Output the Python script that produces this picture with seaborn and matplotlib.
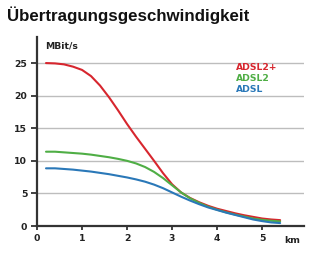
import matplotlib
matplotlib.use("Agg")
import matplotlib.pyplot as plt
import matplotlib.transforms as mtransforms
import seaborn as sns
import pandas as pd

# ---- data ----
distance_km = [0.2, 0.4, 0.6, 0.8, 1.0, 1.2, 1.4, 1.6, 1.8, 2.0, 2.2, 2.4, 2.6,
               2.8, 3.0, 3.2, 3.4, 3.6, 3.8, 4.0, 4.2, 4.4, 4.6, 4.8, 5.0, 5.2, 5.4]
adsl2plus = [25.0, 24.95, 24.8, 24.45, 23.95, 23.0, 21.55, 19.75, 17.75, 15.65, 13.7, 11.85, 10.0,
             8.1, 6.4, 5.15, 4.3, 3.65, 3.1, 2.65, 2.3, 1.95, 1.65, 1.4, 1.15, 1.0, 0.9]
adsl2 = [11.4, 11.4, 11.3, 11.2, 11.1, 10.95, 10.75, 10.55, 10.3, 10.0, 9.6, 9.05, 8.3,
         7.35, 6.25, 5.15, 4.25, 3.55, 2.95, 2.5, 2.1, 1.75, 1.45, 1.15, 0.95, 0.8, 0.7]
adsl = [8.85, 8.85, 8.75, 8.65, 8.5, 8.35, 8.15, 7.95, 7.7, 7.45, 7.15, 6.8, 6.35,
        5.8, 5.15, 4.5, 3.9, 3.35, 2.85, 2.45, 2.05, 1.7, 1.35, 1.0, 0.75, 0.55, 0.45]
series_names = ["ADSL2+", "ADSL2", "ADSL"]
series_colors = ["#d7262e", "#4fae45", "#2a78b8"]
x_ticks = [0, 1, 2, 3, 4, 5]
y_ticks = [0, 5, 10, 15, 20, 25]
title = "Übertragungsgeschwindigkeit"
y_unit = "MBit/s"
x_unit = "km"

df = pd.concat([
    pd.DataFrame({"km": distance_km, "rate": vals, "series": name})
    for name, vals in zip(series_names, [adsl2plus, adsl2, adsl])
], ignore_index=True)

sns.set_style("white")
plt.rcParams["font.family"] = ["DejaVu Sans"]
plt.rcParams["font.weight"] = "bold"

SMALL = 6.7
TXT = "#222222"

fig = plt.figure(figsize=(3.30, 2.57), dpi=100)
ax = fig.add_axes([37 / 330, 1 - 226 / 257, (304 - 37) / 330, (226 - 37) / 257])

ax.set_xlim(0, 5.93)
ax.set_ylim(0, 29)

# grid
for yv in y_ticks[1:]:
    ax.axhline(yv, color="#bdbdbd", lw=1.0, zorder=0)

sns.lineplot(data=df, x="km", y="rate", hue="series", hue_order=series_names,
             palette=dict(zip(series_names, series_colors)), lw=1.5, ax=ax,
             legend=False, zorder=3)

ax.set_xlabel("")
ax.set_ylabel("")
ax.set_xticks(x_ticks)
ax.set_yticks(y_ticks)
ax.set_xticklabels([str(t) for t in x_ticks], fontsize=SMALL, fontweight="bold", color=TXT)
ax.set_yticklabels([str(t) for t in y_ticks], fontsize=SMALL, fontweight="bold", color=TXT)
ax.tick_params(axis="x", direction="out", length=3, width=1.3, color="#333333", pad=3, bottom=True)
ax.tick_params(axis="y", direction="out", length=4.5, width=1.3, color="#333333", pad=2.5, left=True)

for s in ["top", "right"]:
    ax.spines[s].set_visible(False)
for s in ["left", "bottom"]:
    ax.spines[s].set_color("#333333")
    ax.spines[s].set_linewidth(1.6)

# unit labels
ax.text(0.18, 27.6, y_unit, fontsize=SMALL, fontweight="bold", color=TXT,
        ha="left", va="center")
trans = mtransforms.blended_transform_factory(ax.transData, ax.transAxes)
ax.text(5.49, -0.075, x_unit, transform=trans, fontsize=SMALL, fontweight="bold",
        color=TXT, ha="left", va="center")

# legend as coloured text
for i, (name, col) in enumerate(zip(series_names, series_colors)):
    ax.text(4.42, 24.3 - i * 1.69, name, fontsize=SMALL, fontweight="bold",
            color=col, ha="left", va="center")

fig.text(7 / 330, 1 - 15.5 / 257, title, fontsize=12.2, fontweight="bold",
         family=["Liberation Sans", "DejaVu Sans"],
         color="#111111", ha="left", va="center")

fig.savefig("out.png", dpi=100)
